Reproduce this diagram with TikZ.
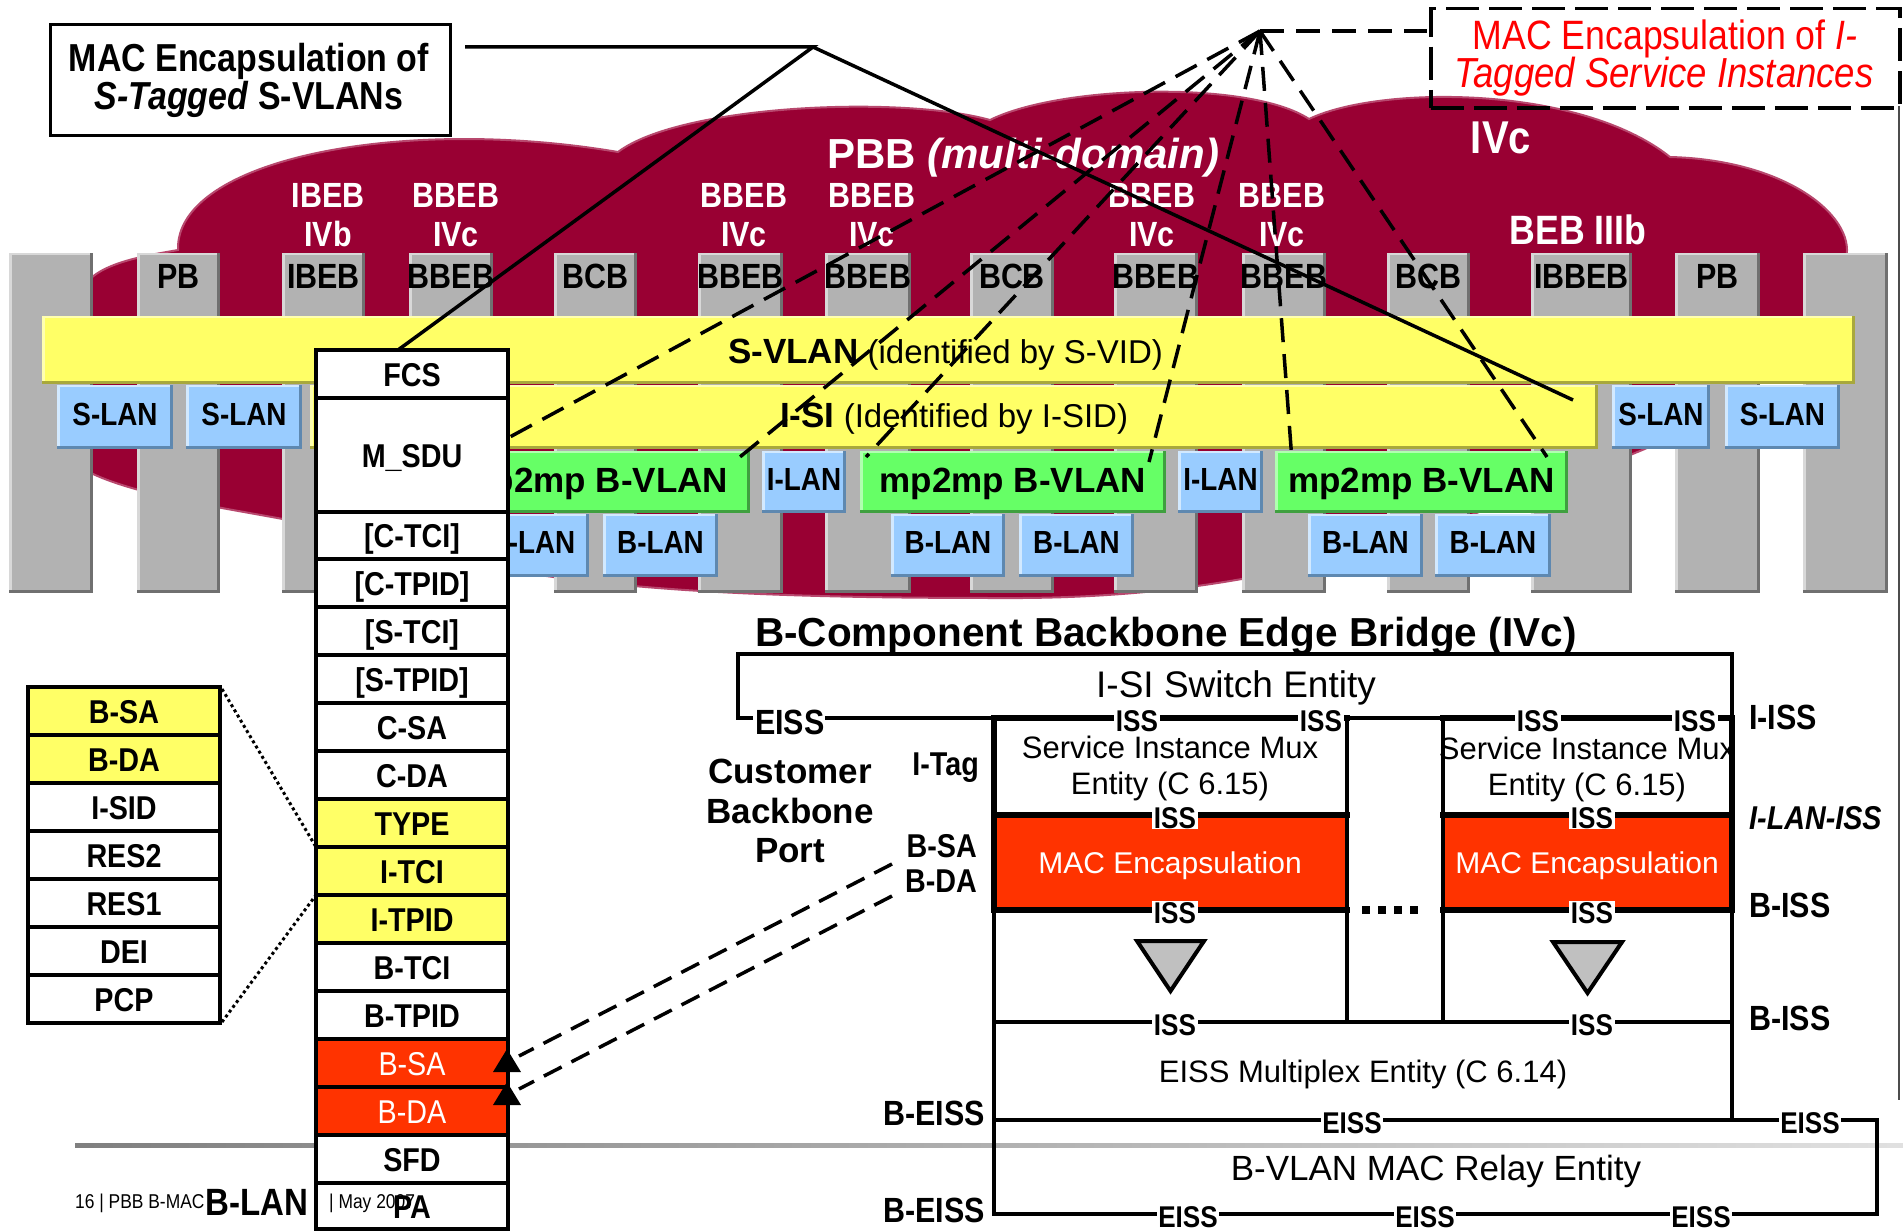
\documentclass[tikz,border=0pt]{standalone}
\usepackage{fontspec}
\setmainfont{Liberation Sans}
\newfontfamily\cnd{Liberation Sans}[FakeStretch=0.87]
\definecolor{cloud}{HTML}{990033}
\definecolor{cloudl}{HTML}{B8486E}
\definecolor{pil}{HTML}{B2B2B2}
\definecolor{pild}{HTML}{707070}
\definecolor{pill}{HTML}{D8D8D8}
\definecolor{yel}{HTML}{FFFF66}
\definecolor{yeld}{HTML}{A8A83C}
\definecolor{yell}{HTML}{FFFFB0}
\definecolor{blu}{HTML}{99CCFF}
\definecolor{blud}{HTML}{5E88B0}
\definecolor{blul}{HTML}{D2E9FF}
\definecolor{grn}{HTML}{66FF66}
\definecolor{grnd}{HTML}{3FA03F}
\definecolor{grnl}{HTML}{B0FFB0}
\definecolor{encred}{HTML}{FF3300}
\definecolor{boxred}{HTML}{FF0000}
\definecolor{tri}{HTML}{C0C0C0}
\newcommand\myfs[1]{\fontsize{#1}{#1}\selectfont}
\newcommand\shbox[7]{%
  \fill[#5] (#1,#2) rectangle (#3,#4);
  \fill[#7] (#1,#2) rectangle ({#1+3},#4);
  \fill[#7] (#1,#2) rectangle (#3,{#2+2});
  \fill[#6] ({#3-3},#2) rectangle (#3,#4);
  \fill[#6] (#1,{#4-3}) rectangle (#3,#4);
}
\begin{document}
\begin{tikzpicture}[x=1pt,y=-1pt,
  txt/.style={inner sep=0pt, anchor=base},
  lab/.style={txt, fill=white, inner xsep=1.5pt, inner ysep=1pt, font=\cnd\bfseries\myfs{30}},
  thn/.style={line width=3.5pt},
  thk/.style={line width=6pt},
  dsh/.style={line width=3.5pt, dash pattern=on 24pt off 12pt},
  dsh2/.style={line width=3.5pt, dash pattern=on 20pt off 11pt}]
\useasboundingbox (0,0) rectangle (1903,1231);
\fill[white] (0,0) rectangle (1903,1231);

% ---------- cloud ----------
\path[fill=cloud, draw=cloudl, line width=2pt] (85,470) -- (85,285)
  .. controls (100,262) and (150,255) .. (178,250)
  .. controls (175,160) and (400,115) .. (618,152)
  .. controls (680,105) and (900,95) .. (990,120)
  .. controls (1060,85) and (1250,80) .. (1309,119)
  .. controls (1380,85) and (1580,85) .. (1670,157)
  .. controls (1790,160) and (1860,220) .. (1845,262)
  .. controls (1830,340) and (1720,420) .. (1630,455)
  .. controls (1450,520) and (1300,600) .. (1000,598)
  .. controls (750,598) and (550,590) .. (400,545)
  .. controls (300,515) and (150,505) .. (85,470) -- cycle;

% ---------- pillars ----------
\foreach \a/\b in {9/93, 1803/1888} {\shbox{\a}{253}{\b}{593}{pil}{pild}{pill}}
\foreach \a/\b/\l/\n in {137/220/PB/pbA, 282/365/IBEB/ibebA, 409/493/BBEB/bbebA, 554/637/BCB/bcbA, 698/783/BBEB/bbebB, 825/911/BBEB/bbebC, 970/1054/BCB/bcbB, 1114/1198/BBEB/bbebD, 1242/1326/BBEB/bbebE, 1387/1470/BCB/bcbC, 1531/1632/IBBEB/ibbebA, 1675/1760/PB/pbB} {
  \shbox{\a}{253}{\b}{593}{pil}{pild}{pill}
  \node[txt, font=\cnd\bfseries\myfs{35}] (\n) at ({(\a+\b)/2},288) {\l};
}

% ---------- cloud labels ----------
\foreach \x/\l/\m/\n in {328/IBEB/IVb/cA, 456/BBEB/IVc/cB, 744/BBEB/IVc/cC, 872/BBEB/IVc/cD, 1152/BBEB/IVc/cE, 1282/BBEB/IVc/cF} {
  \node[txt, text=white, font=\cnd\bfseries\myfs{35}] (\n1) at (\x,207) {\l};
  \node[txt, text=white, font=\cnd\bfseries\myfs{35}] (\n2) at (\x,246) {\m};
}
\node[txt, anchor=base west, text=white, font=\bfseries\myfs{42}] (pbb) at (827,168) {PBB \textit{(multi-domain)}};
\node[txt, text=white, font=\cnd\bfseries\myfs{46}] (ivc) at (1501,153) {IVc};
\node[txt, text=white, font=\cnd\bfseries\myfs{41}] (beb) at (1578,244) {BEB IIIb};

% ---------- bars ----------
\shbox{42}{316}{1855}{384}{yel}{yeld}{yell}
\shbox{310}{385}{1598}{449}{yel}{yeld}{yell}
\node[txt, anchor=base west] (svlan) at (728,363) {\bfseries\myfs{35}S-VLAN\mdseries\myfs{33} (identified by S-VID)};
\node[txt, anchor=base west] (isi) at (780,427) {\bfseries\myfs{35}I-SI\mdseries\myfs{33} (Identified by I-SID)};
\foreach \a/\b/\n in {57/173/slA, 186/302/slB, 1612/1710/slC, 1725/1840/slD} {
  \shbox{\a}{385}{\b}{449}{blu}{blud}{blul}
  \node[txt, font=\cnd\bfseries\myfs{32}] (\n) at ({(\a+\b)/2},425) {S-LAN};
}
\foreach \a/\b/\n in {440/750/gA, 860/1166/gB, 1275/1568/gC} {
  \shbox{\a}{451}{\b}{513}{grn}{grnd}{grnl}
  \node[txt, font=\bfseries\myfs{35}] (\n) at ({(\a+\b)/2},492) {mp2mp B-VLAN};
}
\foreach \a/\b/\n in {762/846/ilA, 1178/1263/ilB} {
  \shbox{\a}{451}{\b}{513}{blu}{blud}{blul}
  \node[txt, font=\cnd\bfseries\myfs{32}] (\n) at ({(\a+\b)/2},490) {I-LAN};
}
\foreach \a/\b/\n in {475/589/blA, 603/718/blB, 891/1005/blC, 1019/1134/blD, 1308/1423/blE, 1435/1551/blF} {
  \shbox{\a}{514}{\b}{577}{blu}{blud}{blul}
  \node[txt, font=\cnd\bfseries\myfs{32}] (\n) at ({(\a+\b)/2},553) {B-LAN};
}

% ---------- footer rule ----------
\shade[left color=black!50, right color=black!12] (75,1143) rectangle (1903,1147);
\draw[black!70, line width=1.5pt] (1899,106) -- (1899,1100);

% ---------- frame column ----------
\foreach \ya/\yb/\fc/\tc/\ff/\lab/\nm in {
  350/398/white/black/\bfseries/FCS/fcs,
  398/512/white/black/\bfseries/M\_SDU/msdu,
  512/559/white/black/\bfseries/[C-TCI]/ctci,
  559/607/white/black/\bfseries/[C-TPID]/ctpid,
  607/655/white/black/\bfseries/[S-TCI]/stci,
  655/703/white/black/\bfseries/[S-TPID]/stpid,
  703/751/white/black/\bfseries/C-SA/csa,
  751/799/white/black/\bfseries/C-DA/cda,
  799/847/yel/black/\bfseries/TYPE/type,
  847/895/yel/black/\bfseries/I-TCI/itci,
  895/943/yel/black/\bfseries/I-TPID/itpid,
  943/991/white/black/\bfseries/B-TCI/btci,
  991/1039/white/black/\bfseries/B-TPID/btpid,
  1039/1087/encred/white/\mdseries/B-SA/bsa,
  1087/1135/encred/white/\mdseries/B-DA/bda,
  1135/1183/white/black/\bfseries/SFD/sfd,
  1183/1229/white/black/\bfseries/PA/pa} {
  \draw[line width=4pt, fill=\fc] (316,\ya) rectangle (508,\yb);
  \node[txt, text=\tc, font=\cnd\ff\myfs{33}] (\nm) at (412,{(\ya+\yb)/2+12}) {\lab};
}

% ---------- I-TCI expansion ----------
\foreach \ya/\fc/\lab/\nm in {687/yel/B-SA/fA, 735/yel/B-DA/fB, 783/white/I-SID/fC, 831/white/RES2/fD, 879/white/RES1/fE, 927/white/DEI/fF, 975/white/PCP/fG} {
  \draw[line width=4pt, fill=\fc] (28,\ya) rectangle (220,{\ya+48});
  \node[txt, font=\cnd\bfseries\myfs{33}] (\nm) at (124,{\ya+36}) {\lab};
}
\coordinate (ftop) at (222,689);
\coordinate (fbot) at (222,1022);
\coordinate (itciT) at (316,847);
\coordinate (itciB) at (316,895);
\draw[line width=3pt, dash pattern=on 3pt off 3pt] (ftop) -- (itciT);
\draw[line width=3pt, dash pattern=on 3pt off 3pt] (fbot) -- (itciB);

% ---------- callout boxes ----------
\node[draw, line width=3pt, minimum width=400pt, minimum height=111pt, anchor=north west, inner sep=0pt] (sbox) at (49,23) {};
\node[txt, font=\cnd\bfseries\myfs{39}] (sboxA) at (249,71) {MAC Encapsulation of};
\node[txt, font=\cnd\bfseries\myfs{39}] (sboxB) at (249,109) {\textit{S-Tagged} S-VLANs};
\node[draw, line width=3.5pt, dash pattern=on 33pt off 10pt, minimum width=469pt, minimum height=99pt, anchor=north west, inner sep=0pt] (ibox) at (1429,7) {};
\node[txt, text=boxred, font=\cnd\myfs{41}] (iboxA) at (1665,49) {MAC Encapsulation of \textit{I-}};
\node[txt, text=boxred, font=\cnd\itshape\myfs{42}] (iboxB) at (1664,88) {Tagged Service Instances};

% ---------- callout connectors ----------
\coordinate (sline) at (465,47);
\coordinate (hub) at (813,47);
\coordinate (fcstop) at (398,350);
\coordinate (isiend) at (1573,400);
\draw[line width=3.5pt] (sline) -- (hub) -- (fcstop);
\draw[line width=3.5pt] (hub) -- (isiend);
\coordinate (apex) at (1260,31);
\coordinate (iboxL) at (1427,31);
\coordinate (dA) at (508,438);
\coordinate (dB) at (735,461);
\coordinate (dC) at (866,457);
\coordinate (dD) at (1149,462);
\coordinate (dE) at (1292,461);
\coordinate (dF) at (1547,457);
\draw[dsh] (apex) -- (iboxL);
\foreach \t in {dA,dB,dC,dD,dE,dF} {\draw[dsh] (apex) -- (\t);}

% ---------- B-component panel ----------
\node[txt, anchor=base west, font=\bfseries\myfs{40.5}] (title) at (755,646) {B-Component Backbone Edge Bridge (IVc)};
\node[txt, font=\myfs{37}] (isw) at (1236,697) {I-SI Switch Entity};
\draw[thn] (753,718) -- (738,718) -- (738,654) -- (1732,654) -- (1732,1120);
\node[txt, anchor=base west, font=\cnd\bfseries\myfs{35}] (eissL) at (755,734) {EISS};
\draw[thn] (825,718) -- (994,718);
\path[fill=encred] (994,815) rectangle (1347,910);
\path[fill=encred] (1443,815) rectangle (1732,910);
\draw[thk] (991,718) -- (1350,718);
\draw[thn] (1347,718) -- (1443,718);
\draw[thk] (1440,718) -- (1735,718);
\draw[thk] (991,815) -- (1350,815);
\draw[thk] (991,910) -- (1350,910);
\draw[thk] (1440,815) -- (1735,815);
\draw[thk] (1440,910) -- (1735,910);
\draw[thk] (994,718) -- (994,910);
\draw[line width=4.5pt] (994,910) -- (994,1216);
\draw[line width=4.5pt] (1347,718) -- (1347,1024);
\draw[line width=4.5pt] (1443,718) -- (1443,1024);
\draw[thk] (1732,718) -- (1732,910);
\draw[thn] (994,1022) -- (1732,1022);
\draw[thn] (994,1120) -- (1877,1120) -- (1877,1214) -- (994,1214);
% triangles and dots
\draw[line width=4pt, fill=tri, line join=miter] (1137,941) -- (1204,941) -- (1170.5,991) -- cycle;
\draw[line width=4pt, fill=tri, line join=miter] (1553,942) -- (1622,942) -- (1587.5,993) -- cycle;
\foreach \x in {1362,1378,1394,1410} {\fill (\x,906) rectangle ({\x+8},914);}
% texts in mux boxes
\node[txt, font=\myfs{31}] (smA1) at (1170,758) {Service Instance Mux};
\node[txt, font=\myfs{31}] (smA2) at (1170,794) {Entity (C 6.15)};
\node[txt, font=\myfs{31}] (smB1) at (1587,759) {Service Instance Mux};
\node[txt, font=\myfs{31}] (smB2) at (1587,795) {Entity (C 6.15)};
\node[txt, text=white, font=\myfs{30}] (meA) at (1170,873) {MAC Encapsulation};
\node[txt, text=white, font=\myfs{30}] (meB) at (1587,873) {MAC Encapsulation};
\node[txt, font=\myfs{31}] (emux) at (1363,1082) {EISS Multiplex Entity (C 6.14)};
\node[txt, font=\myfs{35}] (relay) at (1436,1180) {B-VLAN MAC Relay Entity};
% ISS / EISS labels on lines
\node[lab] (issA) at (1137,731) {ISS};
\node[lab] (issB) at (1321,731) {ISS};
\node[lab] (issC) at (1538,731) {ISS};
\node[lab] (issD) at (1695,731) {ISS};
\node[lab] (issE) at (1175,828) {ISS};
\node[lab] (issF) at (1592,828) {ISS};
\node[lab] (issG) at (1175,923) {ISS};
\node[lab] (issH) at (1592,923) {ISS};
\node[lab] (issI) at (1175,1035) {ISS};
\node[lab] (issJ) at (1592,1035) {ISS};
\node[lab] (eissA) at (1352,1133) {EISS};
\node[lab] (eissB) at (1810,1133) {EISS};
\node[lab] (eissC) at (1188,1227) {EISS};
\node[lab] (eissD) at (1425,1227) {EISS};
\node[lab] (eissE) at (1701,1227) {EISS};
% side labels
\node[txt, anchor=base west, font=\cnd\bfseries\myfs{35}] (iiss) at (1749,729) {I-ISS};
\node[txt, anchor=base west, font=\cnd\bfseries\itshape\myfs{33}] (ilaniss) at (1749,829) {I-LAN-ISS};
\node[txt, anchor=base west, font=\cnd\bfseries\myfs{35}] (bissA) at (1749,917) {B-ISS};
\node[txt, anchor=base west, font=\cnd\bfseries\myfs{35}] (bissB) at (1749,1030) {B-ISS};
\node[txt, anchor=base east, font=\cnd\bfseries\myfs{35}] (beissA) at (985,1125) {B-EISS};
\node[txt, anchor=base east, font=\cnd\bfseries\myfs{35}] (beissB) at (985,1222) {B-EISS};
\node[txt, font=\bfseries\myfs{35}] (cbp1) at (790,783) {Customer};
\node[txt, font=\bfseries\myfs{35}] (cbp2) at (790,823) {Backbone};
\node[txt, font=\bfseries\myfs{35}] (cbp3) at (790,862) {Port};
\node[txt, anchor=base east, font=\cnd\bfseries\myfs{33}] (itag) at (979,775) {I-Tag};
\node[txt, anchor=base east, font=\cnd\bfseries\myfs{33}] (lbsa) at (977,857) {B-SA};
\node[txt, anchor=base east, font=\cnd\bfseries\myfs{33}] (lbda) at (977,892) {B-DA};

% ---------- B-SA / B-DA pointers ----------
\coordinate (pA) at (892,864);
\coordinate (pB) at (892,896);
\coordinate (qA) at (519,1056);
\coordinate (qB) at (519,1089);
\draw[dsh2] (pA) -- (qA);
\draw[dsh2] (pB) -- (qB);
\fill (507,1049) -- (521,1072) -- (493,1072) -- cycle;
\fill (507,1082) -- (521,1105) -- (493,1105) -- cycle;

% ---------- footer ----------
\node[txt, anchor=base west, font=\cnd\myfs{20}] (ftA) at (75,1208) {16 | PBB B-MAC};
\node[txt, anchor=base west, font=\cnd\bfseries\myfs{38}] (ftB) at (205,1215) {B-LAN};
\node[txt, anchor=base west, font=\cnd\myfs{20}] (ftC) at (329,1208) {| May 2007};
\end{tikzpicture}
\end{document}
